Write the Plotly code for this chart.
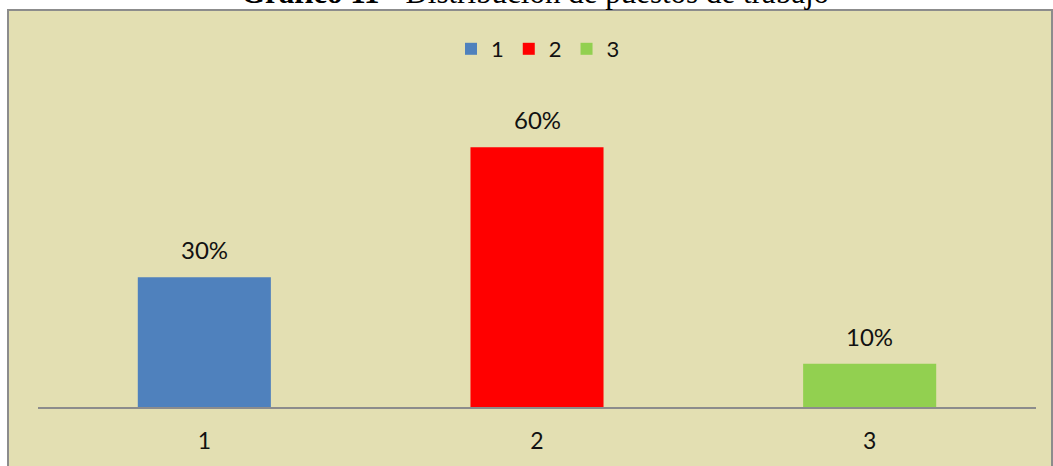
import plotly.graph_objects as go

# ==========================================================
# DATA
# ==========================================================

CATEGORIES = ["1", "2", "3"]
SHARES = [0.30, 0.60, 0.10]
COLORS = ["#4F81BD", "#FF0000", "#92D050"]

TITLE_BOLD = "Gráfico 11"
TITLE_REST = " - Distribución de puestos de trabajo"

BEIGE = "#E3DFB2"
TEXT = "#111111"
FONT = "Lato, Open Sans, sans-serif"

# plot area in pixels (figure 1053 x 466)
W, H = 1053, 466
L, R, T, B = 38, 17, 104, 59
PW, PH = W - L - R, H - T - B


def px_x(px):
    return (px - L) / PW


def px_y(py):
    return (H - B - py) / PH


fig = go.Figure()

for i, (cat, val, col) in enumerate(zip(CATEGORIES, SHARES, COLORS)):
    fig.add_trace(
        go.Bar(
            x=[cat],
            y=[val],
            name=cat,
            marker=dict(color=col, line_width=0),
            width=0.4,
        )
    )
    # value label (category index on the category axis)
    fig.add_annotation(
        x=i,
        y=val,
        text=f"{val:.0%}",
        showarrow=False,
        yanchor="bottom",
        yshift=11,
        font=dict(family=FONT, size=24, color=TEXT),
    )

# chart frame
fig.add_shape(
    type="rect",
    xref="paper",
    yref="paper",
    x0=px_x(8),
    x1=px_x(1052),
    y0=px_y(480),
    y1=px_y(10),
    fillcolor=BEIGE,
    line=dict(color="#8C8C8C", width=2),
    layer="below",
)

# title, cut at the top of the picture
fig.add_annotation(
    xref="paper",
    yref="paper",
    x=px_x(535),
    y=px_y(-7),
    text=f"<b>{TITLE_BOLD}</b>{TITLE_REST}",
    showarrow=False,
    xanchor="center",
    yanchor="middle",
    font=dict(family="Liberation Serif, serif", size=31, color="#000000"),
)

fig.update_layout(
    width=W,
    height=H,
    margin=dict(l=L, r=R, t=T, b=B, autoexpand=False),
    paper_bgcolor="white",
    plot_bgcolor="rgba(0,0,0,0)",
    barmode="overlay",
    showlegend=True,
    legend=dict(
        orientation="h",
        x=px_x(538),
        xanchor="center",
        y=px_y(49),
        yanchor="middle",
        bgcolor="rgba(0,0,0,0)",
        font=dict(family=FONT, size=22, color=TEXT),
        itemwidth=30,
        tracegroupgap=0,
    ),
    font=dict(family=FONT, color=TEXT),
)

fig.update_xaxes(
    type="category",
    range=[-0.5, 2.5],
    showgrid=False,
    showline=True,
    linecolor="#8C8C8C",
    linewidth=2,
    ticks="",
    ticklabelstandoff=12,
    tickfont=dict(family=FONT, size=23, color=TEXT),
)

fig.update_yaxes(
    range=[0, 0.7],
    visible=False,
)

# drop the page's default body margin so the figure sits at (0, 0)
fig.write_html(
    "out.html",
    config={"displayModeBar": False},
    post_script="document.body.style.margin = '0';",
)
